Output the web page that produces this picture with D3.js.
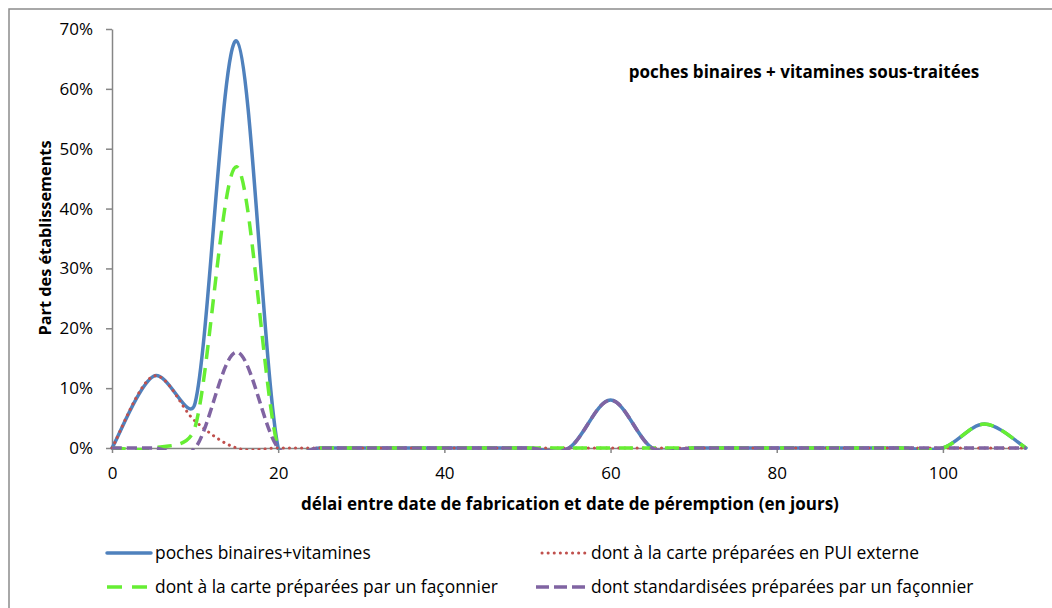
<!DOCTYPE html>
<html>
<head>
<meta charset="utf-8">
<script src="https://cdn.jsdelivr.net/npm/d3@7"></script>
<style>
  html, body { margin: 0; padding: 0; background: #fff; }
  svg { display: block; font-family: "Open Sans", Lato, sans-serif; }
</style>
</head>
<body>
<svg id="chart" width="1052" height="608"></svg>
<script>
// Délai (jours) entre fabrication et péremption
const days = [0, 5, 10, 15, 20, 25, 30, 35, 40, 45, 50, 55, 60, 65, 70, 75, 80, 85, 90, 95, 100, 105, 110];

// Part des établissements par série
const pochesBinaires   = [0, 0.12, 0.075, 0.68, 0, 0, 0, 0, 0, 0, 0, 0, 0.08, 0, 0, 0, 0, 0, 0, 0, 0, 0.04, 0];
const carteExterne     = [0, 0.12, 0.045, 0,    0, 0, 0, 0, 0, 0, 0, 0, 0,    0, 0, 0, 0, 0, 0, 0, 0, 0,    0];
const carteFaconnier   = [0, 0,    0.035, 0.47, 0, 0, 0, 0, 0, 0, 0, 0, 0,    0, 0, 0, 0, 0, 0, 0, 0, 0.04, 0];
const standardFaconnier= [0, 0,    0,     0.16, 0, 0, 0, 0, 0, 0, 0, 0, 0.08, 0, 0, 0, 0, 0, 0, 0, 0, 0,    0];

const seriesNames = [
  "poches binaires+vitamines",
  "dont à la carte préparées en PUI externe",
  "dont à la carte préparées par un façonnier",
  "dont standardisées préparées par un façonnier"
];

const xTicks = [0, 20, 40, 60, 80, 100];
const yTicks = [0, 0.1, 0.2, 0.3, 0.4, 0.5, 0.6, 0.7];

const chartTitle = "poches binaires + vitamines sous-traitées";
const xTitle = "délai entre date de fabrication et date de péremption (en jours)";
const yTitle = "Part des établissements";

// Styles des séries
const styles = [
  { color: "#4F81BD", width: 3.5, dash: null, cap: "round", legendDash: null },
  { color: "#C0504D", width: 3, dash: "0.1 6", cap: "round", legendDash: "0.1 6" },
  { color: "#66EE33", width: 3.5, dash: "14 9", cap: "butt", legendDash: "15 10" },
  { color: "#8064A2", width: 3.5, dash: "10 5", cap: "butt", legendDash: "13 5" }
];

const seriesValues = [pochesBinaires, carteExterne, carteFaconnier, standardFaconnier];

// Lissage de type tableur : Bézier avec bras de contrôle (P2-P0)/6,
// limités à la moitié de la longueur du segment.
function curveSmoothLimited(context) {
  let pts = [];
  return {
    areaStart() {}, areaEnd() {},
    lineStart() { pts = []; },
    point(x, y) { pts.push([+x, +y]); },
    lineEnd() {
      const n = pts.length;
      if (!n) return;
      context.moveTo(pts[0][0], pts[0][1]);
      const arm = (a, b, len) => {
        let dx = (b[0] - a[0]) / 6, dy = (b[1] - a[1]) / 6;
        const l = Math.hypot(dx, dy), lim = len / 2;
        if (l > lim && l > 0) { dx *= lim / l; dy *= lim / l; }
        return [dx, dy];
      };
      for (let i = 0; i < n - 1; i++) {
        const p0 = pts[Math.max(0, i - 1)], p1 = pts[i], p2 = pts[i + 1], p3 = pts[Math.min(n - 1, i + 2)];
        const d12 = Math.hypot(p2[0] - p1[0], p2[1] - p1[1]);
        const a1 = arm(p0, p2, d12), a2 = arm(p1, p3, d12);
        context.bezierCurveTo(p1[0] + a1[0], p1[1] + a1[1], p2[0] - a2[0], p2[1] - a2[1], p2[0], p2[1]);
      }
    }
  };
}

const svg = d3.select("#chart");
const axisColor = "#868686";

// Cadre extérieur
svg.append("rect")
  .attr("x", 9).attr("y", 9).attr("width", 1100).attr("height", 700)
  .attr("fill", "none").attr("stroke", "#8c8c8c").attr("stroke-width", 1.5);

const plot = { left: 112, right: 1026, top: 29, bottom: 448 };

const x = d3.scaleLinear().domain([0, 110]).range([plot.left, plot.right]);
const y = d3.scaleLinear().domain([0, 0.7]).range([plot.bottom, plot.top]);

// Zone de tracé (les courbes lissées sont coupées sous 0 %)
svg.append("defs").append("clipPath").attr("id", "plotClip")
  .append("rect")
  .attr("x", plot.left - 4).attr("y", 0)
  .attr("width", plot.right - plot.left + 10)
  .attr("height", plot.bottom + 2);

// Axe Y
const yAxis = svg.append("g")
  .attr("transform", `translate(${plot.left},0)`)
  .call(d3.axisLeft(y).tickValues(yTicks).tickFormat(d3.format(".0%"))
    .tickSize(6).tickSizeOuter(0).tickPadding(13));

// Axe X
const xAxis = svg.append("g")
  .attr("transform", `translate(0,${plot.bottom})`)
  .call(d3.axisBottom(x).tickValues(xTicks).tickFormat(d3.format("d"))
    .tickSize(5).tickSizeOuter(0).tickPadding(14));

[yAxis, xAxis].forEach(g => {
  g.select(".domain").attr("stroke", axisColor).attr("stroke-width", 1.5);
  g.selectAll(".tick line").attr("stroke", axisColor).attr("stroke-width", 1.5);
  g.selectAll(".tick text").attr("fill", "#000").style("font-size", "17px")
    .style("font-family", "'Open Sans', sans-serif");
});

// Courbes lissées
const line = d3.line()
  .x((d, i) => x(days[i]))
  .y(d => y(d))
  .curve(curveSmoothLimited);

const curves = svg.append("g").attr("clip-path", "url(#plotClip)");
seriesValues.forEach((vals, k) => {
  const s = styles[k];
  curves.append("path")
    .datum(vals)
    .attr("d", line)
    .attr("fill", "none")
    .attr("stroke", s.color)
    .attr("stroke-width", s.width)
    .attr("stroke-linecap", s.cap)
    .attr("stroke-linejoin", "round")
    .attr("stroke-dasharray", s.dash);
});

// Titres
svg.append("text")
  .attr("x", 804).attr("y", 78)
  .attr("text-anchor", "middle")
  .style("font-size", "17px").style("font-weight", "bold")
  .text(chartTitle);

svg.append("text")
  .attr("x", 570).attr("y", 510)
  .attr("text-anchor", "middle")
  .style("font-size", "17px").style("font-weight", "bold")
  .text(xTitle);

svg.append("text")
  .attr("transform", "translate(51,238) rotate(-90)")
  .attr("text-anchor", "middle")
  .style("font-size", "16.3px").style("font-weight", "bold")
  .text(yTitle);

// Légende
const legendItems = [
  { x1: 107, x2: 151, tx: 155, y: 553 },
  { x1: 542, x2: 585, tx: 591, y: 553 },
  { x1: 107, x2: 148, tx: 155, y: 587 },
  { x1: 536, x2: 585, tx: 591, y: 587 }
];
const legend = svg.append("g");
legendItems.forEach((it, k) => {
  const s = styles[k];
  legend.append("line")
    .attr("x1", it.x1).attr("x2", it.x2)
    .attr("y1", it.y).attr("y2", it.y)
    .attr("stroke", s.color).attr("stroke-width", s.width)
    .attr("stroke-linecap", s.cap)
    .attr("stroke-dasharray", s.legendDash);
  legend.append("text")
    .attr("x", it.tx).attr("y", it.y + 6)
    .style("font-size", "17.4px")
    .text(seriesNames[k]);
});
</script>
</body>
</html>
